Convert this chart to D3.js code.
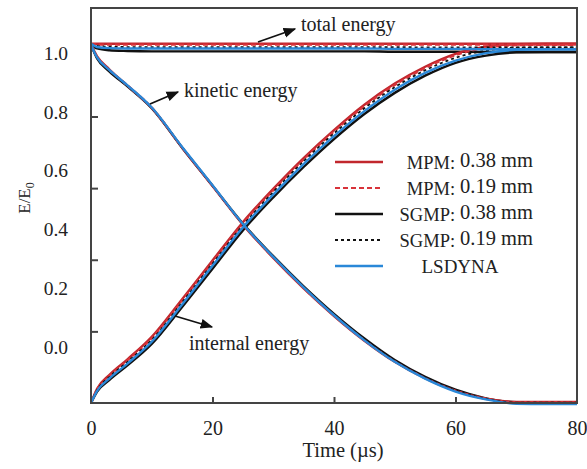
<!DOCTYPE html>
<html>
<head>
<meta charset="utf-8">
<script src="https://cdn.jsdelivr.net/npm/d3@7"></script>
<style>
  body { margin: 0; background: #fff; }
  svg text { font-family: "Liberation Serif", "DejaVu Serif", serif; fill: #222; }
</style>
</head>
<body>
<div id="chart"></div>
<script>
// time samples (µs)
const time = [0, 1, 3, 6, 10, 15, 20, 25, 30, 35, 40, 45, 50, 55, 60, 65, 70, 75, 80];

// kinetic energy E/E0
const kinMPM038  = [1.000, 0.968, 0.932, 0.886, 0.824, 0.713, 0.606, 0.498, 0.405, 0.320, 0.243, 0.174, 0.115, 0.069, 0.034, 0.012, 0.003, 0.003, 0.003];
const kinMPM019  = [1.000, 0.967, 0.931, 0.887, 0.825, 0.714, 0.607, 0.499, 0.406, 0.321, 0.244, 0.175, 0.116, 0.069, 0.034, 0.012, 0.002, 0.002, 0.002];
const kinSGMP038 = [1.000, 0.962, 0.926, 0.884, 0.823, 0.713, 0.607, 0.501, 0.410, 0.326, 0.249, 0.180, 0.120, 0.073, 0.037, 0.013, 0.002, 0.001, 0.001];
const kinSGMP019 = [1.000, 0.964, 0.928, 0.885, 0.824, 0.714, 0.607, 0.500, 0.408, 0.324, 0.247, 0.178, 0.118, 0.071, 0.035, 0.012, 0.001, 0.001, 0.001];
const kinLSDYNA  = [1.000, 0.965, 0.930, 0.887, 0.825, 0.715, 0.608, 0.500, 0.408, 0.323, 0.245, 0.175, 0.115, 0.068, 0.032, 0.010, -0.002, -0.003, -0.003];

// internal energy E/E0
const intMPM038  = [0.000, 0.040, 0.078, 0.122, 0.185, 0.290, 0.398, 0.505, 0.598, 0.684, 0.762, 0.833, 0.892, 0.939, 0.975, 0.995, 1.002, 1.003, 1.003];
const intMPM019  = [0.000, 0.038, 0.075, 0.119, 0.181, 0.286, 0.394, 0.501, 0.594, 0.680, 0.758, 0.829, 0.888, 0.935, 0.971, 0.992, 0.999, 1.000, 1.000];
const intSGMP038 = [0.000, 0.032, 0.064, 0.105, 0.165, 0.268, 0.375, 0.482, 0.574, 0.659, 0.737, 0.807, 0.866, 0.914, 0.950, 0.970, 0.979, 0.980, 0.980];
const intSGMP019 = [0.000, 0.036, 0.072, 0.115, 0.176, 0.281, 0.389, 0.496, 0.589, 0.675, 0.753, 0.823, 0.882, 0.929, 0.964, 0.984, 0.992, 0.993, 0.993];
const intLSDYNA  = [0.000, 0.034, 0.068, 0.110, 0.171, 0.275, 0.383, 0.490, 0.582, 0.667, 0.745, 0.815, 0.875, 0.922, 0.956, 0.977, 0.986, 0.988, 0.988];

// total energy E/E0
const totMPM038  = [1.003, 1.003, 1.003, 1.003, 1.003, 1.003, 1.003, 1.003, 1.003, 1.003, 1.003, 1.003, 1.003, 1.003, 1.003, 1.003, 1.003, 1.003, 1.003];
const totMPM019  = [1.003, 1.001, 1.001, 1.001, 1.001, 1.001, 1.001, 1.001, 1.001, 1.001, 1.001, 1.001, 1.001, 1.001, 1.001, 1.001, 1.001, 1.001, 1.001];
const totSGMP038 = [1.003, 0.990, 0.985, 0.983, 0.982, 0.982, 0.982, 0.982, 0.982, 0.982, 0.982, 0.982, 0.981, 0.981, 0.981, 0.980, 0.980, 0.980, 0.980];
const totSGMP019 = [1.003, 0.997, 0.995, 0.994, 0.994, 0.994, 0.994, 0.994, 0.994, 0.994, 0.994, 0.994, 0.994, 0.993, 0.993, 0.993, 0.993, 0.993, 0.993];
const totLSDYNA  = [1.003, 0.994, 0.991, 0.990, 0.990, 0.990, 0.990, 0.990, 0.990, 0.990, 0.990, 0.990, 0.989, 0.989, 0.989, 0.988, 0.988, 0.988, 0.988];

const xTicks = [0, 20, 40, 60, 80];
const yTicks = [0.2, 0.4, 0.6, 0.8];
const yTickLabels = [0.0, 0.2, 0.4, 0.6, 0.8, 1.0];

const seriesNames = ["MPM:", "MPM:", "SGMP:", "SGMP:", "LSDYNA"];
const seriesSizes = ["0.38 mm", "0.19 mm", "0.38 mm", "0.19 mm", ""];

const W = 587, H = 469;
const margin = {top: 8, right: 10, bottom: 66, left: 91};
const serif = '"Liberation Serif", "DejaVu Serif", serif';

const svg = d3.select("#chart").append("svg")
    .attr("width", W).attr("height", H)
    .style("font-family", serif);

const x = d3.scaleLinear().domain([0, 80]).range([margin.left, W - margin.right]);
const y = d3.scaleLinear().domain([0, 1.103]).range([H - margin.bottom, margin.top]);
// tick labels of the original sit at their own spacing
const yLab = d3.scaleLinear().domain([0, 1]).range([347, 53]);

const styles = [
    {key: "MPM038",  color: "#c1272d", dash: null,  w: 2.4},
    {key: "MPM019",  color: "#d8333a", dash: "5,3", w: 2.2},
    {key: "SGMP038", color: "#111111", dash: null,  w: 2.4},
    {key: "SGMP019", color: "#111111", dash: "3,3", w: 1.8},
    {key: "LSDYNA",  color: "#2a88d8", dash: null,  w: 2.4}
];

const data = {
    MPM038:  [kinMPM038, intMPM038, totMPM038],
    MPM019:  [kinMPM019, intMPM019, totMPM019],
    SGMP038: [kinSGMP038, intSGMP038, totSGMP038],
    SGMP019: [kinSGMP019, intSGMP019, totSGMP019],
    LSDYNA:  [kinLSDYNA, intLSDYNA, totLSDYNA]
};

const line = d3.line()
    .x((d, i) => x(time[i]))
    .y(d => y(d))
    .curve(d3.curveMonotoneX);

const drawOrder = ["SGMP038", "MPM038", "MPM019", "SGMP019", "LSDYNA"];
const lines = svg.append("g");
drawOrder.forEach(k => {
    const s = styles.find(t => t.key === k);
    data[k].forEach(arr => {
        lines.append("path")
            .attr("d", line(arr))
            .attr("fill", "none")
            .attr("stroke", s.color)
            .attr("stroke-width", s.w)
            .attr("stroke-dasharray", s.dash);
    });
});

// frame
svg.append("rect")
    .attr("x", margin.left).attr("y", margin.top)
    .attr("width", W - margin.left - margin.right)
    .attr("height", H - margin.top - margin.bottom)
    .attr("fill", "none").attr("stroke", "#444").attr("stroke-width", 2);

// x axis
const xAxis = svg.append("g")
    .attr("transform", `translate(0,${H - margin.bottom})`)
    .call(d3.axisBottom(x).tickValues(xTicks).tickSize(-6).tickPadding(18).tickFormat(d3.format("d")));
xAxis.attr("font-family", serif).attr("font-size", 20);
xAxis.select(".domain").remove();
xAxis.selectAll("line").attr("stroke", "#444").attr("stroke-width", 2);
xAxis.selectAll("text").attr("fill", "#222");
xAxis.selectAll(".tick").filter(d => d === 0 || d === 80).select("line").remove();

// y axis ticks
const yAxis = svg.append("g")
    .attr("transform", `translate(${margin.left},0)`)
    .call(d3.axisLeft(y).tickValues(yTicks).tickSize(-7).tickFormat(""));
yAxis.select(".domain").remove();
yAxis.selectAll("line").attr("stroke", "#444").attr("stroke-width", 2);

// y tick labels
const yLabAxis = svg.append("g")
    .attr("transform", `translate(${margin.left},0)`)
    .call(d3.axisLeft(yLab).tickValues(yTickLabels).tickSize(0).tickPadding(23).tickFormat(d3.format(".1f")));
yLabAxis.attr("font-family", serif).attr("font-size", 19.5);
yLabAxis.select(".domain").remove();
yLabAxis.selectAll("text").attr("fill", "#222");

// axis titles
svg.append("text")
    .attr("x", 343).attr("y", 457)
    .attr("text-anchor", "middle")
    .style("font-size", "20.5px")
    .text("Time (µs)");

const yt = svg.append("text")
    .attr("transform", "translate(30,198) rotate(-90)")
    .attr("text-anchor", "middle")
    .style("font-size", "17px");
yt.append("tspan").text("E/E");
yt.append("tspan").attr("dy", 4).style("font-size", "12px").text("0");

// annotations with arrows
svg.append("defs").append("marker")
    .attr("id", "arr").attr("viewBox", "0 0 10 10")
    .attr("refX", 9).attr("refY", 5)
    .attr("markerWidth", 7).attr("markerHeight", 7)
    .attr("orient", "auto")
    .append("path").attr("d", "M0,1 L10,5 L0,9 Z").attr("fill", "#111");

const notes = [
    {text: "total energy",    tx: 301, ty: 31,  a: [258, 42, 295, 29]},
    {text: "kinetic energy",  tx: 184, ty: 97,  a: [150, 104, 178, 92]},
    {text: "internal energy", tx: 189, ty: 350, a: [175, 316, 212, 327]}
];
notes.forEach(n => {
    svg.append("line")
        .attr("x1", n.a[0]).attr("y1", n.a[1]).attr("x2", n.a[2]).attr("y2", n.a[3])
        .attr("stroke", "#111").attr("stroke-width", 1.8)
        .attr("marker-end", "url(#arr)");
    svg.append("text").attr("x", n.tx).attr("y", n.ty)
        .style("font-size", "20px").text(n.text);
});

// legend
const legend = svg.append("g");
styles.forEach((s, i) => {
    const ly = 162 + i * 26;
    legend.append("line")
        .attr("x1", 335).attr("x2", 383).attr("y1", ly).attr("y2", ly)
        .attr("stroke", s.color).attr("stroke-width", s.w)
        .attr("stroke-dasharray", s.dash);
    if (seriesSizes[i]) {
        const t = legend.append("text")
            .attr("x", 533).attr("y", ly + 7)
            .attr("text-anchor", "end");
        t.append("tspan").style("font-size", "18.5px").text(seriesNames[i]);
        t.append("tspan").attr("dx", 5).attr("dy", -2).style("font-size", "20.5px").text(seriesSizes[i]);
    } else {
        legend.append("text")
            .attr("x", 460).attr("y", ly + 7)
            .attr("text-anchor", "middle")
            .style("font-size", "19px")
            .text(seriesNames[i]);
    }
});
</script>
</body>
</html>
